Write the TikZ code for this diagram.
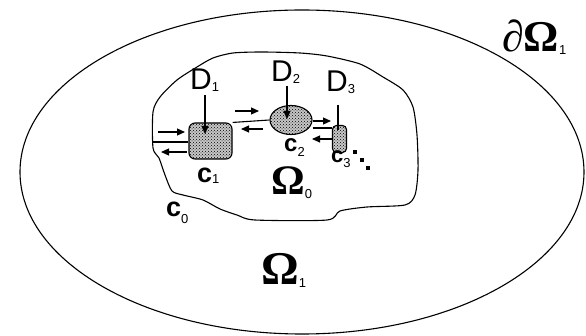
\documentclass[tikz,border=0pt]{standalone}
\usepackage[no-math]{fontspec}
\setmainfont{Liberation Sans}
\newfontfamily\omf{Liberation Serif}
\usetikzlibrary{arrows.meta,shapes.geometric,patterns}
\newcommand\lowsub[2]{\raisebox{#1}{\fontsize{13}{13}\selectfont\mdseries #2}}
\tikzset{
  line/.style={line width=1.1pt},
  arr/.style={line width=1.1pt,-{Triangle[length=8pt,width=7pt]}},
  cell/.style={draw,line width=1.1pt,preaction={fill=black!22},pattern=crosshatch dots,inner sep=0pt},
  dlab/.style={anchor=base west,inner sep=0pt,font=\fontsize{30}{30}\selectfont},
  clab/.style={anchor=base west,inner sep=0pt,font=\fontsize{27}{27}\selectfont\bfseries},
  olab/.style={anchor=base west,inner sep=0pt},
  dotm/.style={rectangle,fill,inner sep=0pt,minimum size=3.2pt}
}
\begin{document}
\begin{tikzpicture}[x=1pt,y=-1pt]
\useasboundingbox (0,0) rectangle (586,336);
% outer domain
\draw[line] (302,172) ellipse [x radius=282, y radius=162];
% inner domain Omega_0
\draw[line] plot[smooth cycle, tension=0.45] coordinates {
 (153,112) (153,148) (159,158) (165,175) (172,191) (183,195) (203,200)
 (220,209) (237,215) (255,220) (327,220) (340,211) (367,207) (405,205)
 (415,195) (418,170) (417,135) (413,107) (403,90) (383,77) (360,64)
 (327,56) (300,53) (262,52) (233,53) (213,58) (197,67) (177,80) (160,97)};
% cells
\node[cell,rectangle,rounded corners=6pt,minimum width=43pt,minimum height=36pt] (c1) at (210.5,141) {};
\node[cell,ellipse,minimum width=42pt,minimum height=29pt] (c2) at (291,120) {};
\node[cell,rectangle,rounded corners=4pt,minimum width=14pt,minimum height=27pt] (c3) at (339.5,139) {};
% boundary attachment point
\coordinate (b0) at (153,142);
% connecting lines
\draw[line] (b0) -- (c1.west |- b0);
\draw[line] (c1.north east) -- (c2.west);
\draw[line] (c2.east |- 0,128) -- (c3.west |- 0,128);
% flux arrows
\coordinate (a1s) at (158,132); \coordinate (a1e) at (185,132);
\coordinate (a2s) at (187,152); \coordinate (a2e) at (161,152);
\coordinate (a3s) at (235,111); \coordinate (a3e) at (259,111);
\coordinate (a4s) at (263,129); \coordinate (a4e) at (241,129);
\coordinate (a5s) at (313,121); \coordinate (a5e) at (331,121);
\coordinate (a6s) at (333,139); \coordinate (a6e) at (312,139);
\draw[arr] (a1s) -- (a1e);
\draw[arr] (a2s) -- (a2e);
\draw[arr] (a3s) -- (a3e);
\draw[arr] (a4s) -- (a4e);
\draw[arr] (a5s) -- (a5e);
\draw[arr] (a6s) -- (a6e);
% D labels
\node[dlab] (D1) at (190,90) {D\lowsub{-2pt}{1}};
\node[dlab] (D2) at (271,82) {D\lowsub{-2pt}{2}};
\node[dlab] (D3) at (326,92) {D\lowsub{-2pt}{3}};
\draw[arr] (205,95) -- (205,134);
\draw[arr] (287,86) -- (287,119);
\draw[line] (338,105) -- (338,130);
% c labels
\node[clab] (l1) at (197,183) {c\lowsub{-1pt}{1}};
\node[clab,font=\fontsize{24}{24}\selectfont\bfseries] (l2) at (284,152) {c\lowsub{-5pt}{2}};
\node[clab,font=\fontsize{22}{22}\selectfont\bfseries] (l3) at (331,163) {c\lowsub{-5pt}{3}};
\node[clab] (l0) at (166,217) {c\lowsub{-7pt}{0}};
\node[dotm] (p1) at (355,152) {};
\node[dotm] (p2) at (362,160) {};
\node[dotm] (p3) at (368,168) {};
% Omega labels
\node[olab] (O0) at (271,195) {{\omf\bfseries\fontsize{42}{42}\selectfont Ω}\lowsub{-4pt}{0}};
\node[olab] (O1) at (261,285) {{\omf\bfseries\fontsize{47}{47}\selectfont Ω}\lowsub{-3pt}{1}};
\node[olab] (dO1) at (502,52) {{\omf\bfseries\fontsize{44}{44}\selectfont ∂Ω}\lowsub{-3pt}{1}};
\end{tikzpicture}
\end{document}
